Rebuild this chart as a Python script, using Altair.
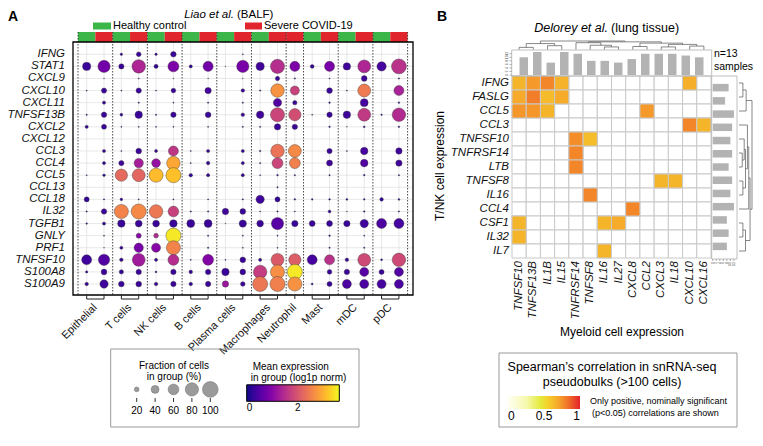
import altair as alt
import pandas as pd

FONT = "Liberation Sans"

# ================= Panel A: Liao et al. (BALF) =================
genes_a = ["IFNG", "STAT1", "CXCL9", "CXCL10", "CXCL11", "TNFSF13B", "CXCL2",
           "CXCL12", "CCL3", "CCL4", "CCL5", "CCL13", "CCL18", "IL32", "TGFB1",
           "GNLY", "PRF1", "TNFSF10", "S100A8", "S100A9"]
cell_types = ["Epithelial", "T cells", "NK cells", "B cells", "Plasma cells",
              "Macrophages", "Neutrophil", "Mast", "mDC", "pDC"]
column_cell_type = ["Epithelial", "Epithelial", "T cells", "T cells", "NK cells", "NK cells",
                    "B cells", "B cells", "Plasma cells", "Plasma cells",
                    "Macrophages", "Macrophages", "Neutrophil", "Mast", "Mast",
                    "mDC", "mDC", "pDC", "pDC"]
conditions = ["Healthy control", "Severe COVID-19"]
condition_colors = ["#3cb549", "#e1252c"]
column_condition = ["Healthy control", "Severe COVID-19"] * 6 + ["Severe COVID-19"] + \
                   ["Healthy control", "Severe COVID-19"] * 3

# columns: EpiH EpiS TH TS NKH NKS BH BS PlH PlS MacH MacS NeuS MastH MastS mDCH mDCS pDCH pDCS
fraction_pct = [
    [0, 0, 8, 20, 8, 25, 0, 0, 0, 3, 0, 0, 0, 0, 0, 0, 0, 0, 0],                   # IFNG
    [42, 72, 23, 82, 17, 62, 12, 56, 2, 72, 42, 87, 55, 15, 55, 37, 77, 50, 93],    # STAT1
    [0, 2, 0, 3, 0, 2, 0, 2, 0, 2, 0, 18, 4, 0, 3, 0, 26, 0, 4],                   # CXCL9
    [3, 23, 3, 24, 3, 20, 0, 30, 0, 14, 4, 82, 48, 0, 26, 3, 77, 0, 55],           # CXCL10
    [0, 12, 0, 4, 0, 3, 0, 4, 0, 4, 0, 43, 18, 0, 5, 0, 40, 0, 5],                 # CXCL11
    [4, 24, 10, 37, 4, 24, 0, 26, 0, 14, 37, 87, 72, 3, 24, 37, 77, 5, 82],        # TNFSF13B
    [12, 22, 3, 3, 3, 3, 0, 3, 0, 4, 4, 30, 24, 0, 5, 2, 6, 0, 5],                 # CXCL2
    [0, 0, 0, 0, 0, 0, 0, 0, 0, 0, 0, 0, 0, 0, 0, 0, 0, 0, 0],                     # CXCL12
    [0, 12, 3, 26, 11, 55, 3, 12, 0, 12, 5, 82, 77, 0, 23, 3, 37, 0, 30],          # CCL3
    [0, 12, 23, 50, 46, 82, 3, 14, 0, 12, 4, 62, 62, 0, 28, 0, 38, 0, 30],         # CCL4
    [3, 9, 72, 77, 87, 95, 14, 12, 0, 12, 3, 5, 4, 0, 4, 0, 5, 0, 4],              # CCL5
    [0, 0, 0, 0, 0, 0, 0, 0, 0, 0, 0, 4, 0, 0, 0, 0, 0, 0, 0],                     # CCL13
    [22, 4, 9, 3, 0, 3, 0, 3, 0, 4, 43, 22, 5, 5, 5, 6, 5, 14, 6],                 # CCL18
    [4, 24, 87, 95, 82, 60, 4, 4, 30, 26, 3, 4, 3, 0, 11, 2, 5, 0, 4],             # IL32
    [5, 12, 37, 33, 33, 38, 40, 40, 2, 36, 32, 72, 30, 27, 27, 30, 43, 55, 55],    # TGFB1
    [0, 3, 0, 22, 20, 95, 0, 4, 0, 3, 0, 3, 0, 0, 5, 0, 3, 0, 0],                  # GNLY
    [0, 2, 12, 50, 48, 87, 0, 4, 0, 3, 0, 3, 0, 0, 4, 0, 4, 0, 0],                 # PRF1
    [55, 65, 14, 77, 12, 62, 3, 62, 3, 26, 12, 77, 72, 55, 55, 14, 77, 6, 82],     # TNFSF10
    [8, 26, 18, 24, 6, 24, 14, 24, 37, 26, 82, 87, 95, 0, 20, 24, 48, 22, 48],     # S100A8
    [14, 43, 26, 26, 14, 24, 14, 24, 30, 20, 95, 95, 87, 6, 22, 48, 48, 48, 48],   # S100A9
]
mean_expr = [
    [0.15, 0.15, 0.22, 0.3, 0.22, 0.3, 0.15, 0.15, 0.15, 0.22, 0.15, 0.15, 0.15, 0.15, 0.15, 0.15, 0.15, 0.15, 0.15],
    [0.3, 0.8, 0.3, 1.4, 0.25, 0.9, 0.25, 0.8, 0.15, 0.85, 0.35, 1.5, 0.9, 0.25, 0.85, 0.35, 1.4, 0.4, 1.55],
    [0.15, 0.2, 0.15, 0.2, 0.15, 0.2, 0.15, 0.2, 0.15, 0.2, 0.15, 0.3, 0.22, 0.15, 0.2, 0.15, 0.35, 0.15, 0.22],
    [0.15, 0.3, 0.15, 0.3, 0.15, 0.3, 0.15, 0.4, 0.15, 0.3, 0.15, 2.7, 1.75, 0.15, 0.3, 0.15, 2.45, 0.15, 1.35],
    [0.15, 0.25, 0.15, 0.22, 0.15, 0.22, 0.15, 0.22, 0.15, 0.22, 0.15, 0.5, 0.3, 0.15, 0.22, 0.15, 0.4, 0.15, 0.22],
    [0.2, 0.3, 0.25, 0.3, 0.2, 0.3, 0.15, 0.3, 0.15, 0.3, 0.35, 1.8, 1.9, 0.15, 0.3, 0.35, 1.65, 0.2, 1.45],
    [0.25, 0.3, 0.2, 0.2, 0.2, 0.2, 0.15, 0.2, 0.15, 0.22, 0.22, 0.3, 0.3, 0.15, 0.22, 0.2, 0.22, 0.15, 0.22],
    [0.15, 0.15, 0.15, 0.15, 0.15, 0.15, 0.15, 0.15, 0.15, 0.15, 0.15, 0.15, 0.15, 0.15, 0.15, 0.15, 0.15, 0.15, 0.15],
    [0.15, 0.25, 0.15, 0.3, 0.25, 1.6, 0.15, 0.25, 0.15, 0.25, 0.15, 2.35, 2.6, 0.15, 0.3, 0.15, 0.4, 0.15, 0.35],
    [0.15, 0.25, 0.35, 1.3, 1.15, 2.9, 0.15, 0.25, 0.15, 0.25, 0.15, 1.8, 2.5, 0.15, 0.35, 0.15, 0.5, 0.15, 0.35],
    [0.15, 0.22, 2.25, 2.2, 3.1, 3.15, 0.25, 0.25, 0.15, 0.25, 0.15, 0.2, 0.2, 0.15, 0.2, 0.15, 0.2, 0.15, 0.2],
    [0.15, 0.15, 0.15, 0.15, 0.15, 0.15, 0.15, 0.15, 0.15, 0.15, 0.15, 0.2, 0.15, 0.15, 0.15, 0.15, 0.15, 0.15, 0.15],
    [0.25, 0.2, 0.22, 0.2, 0.15, 0.2, 0.15, 0.2, 0.15, 0.2, 0.35, 0.25, 0.2, 0.2, 0.2, 0.2, 0.2, 0.25, 0.2],
    [0.15, 0.3, 2.55, 2.6, 2.4, 1.75, 0.15, 0.15, 0.35, 0.3, 0.15, 0.15, 0.15, 0.15, 0.25, 0.15, 0.2, 0.15, 0.2],
    [0.22, 0.25, 0.3, 0.3, 0.3, 0.3, 0.3, 0.3, 0.15, 0.3, 0.3, 0.55, 0.3, 0.3, 0.3, 0.3, 0.35, 0.45, 0.4],
    [0.15, 0.15, 0.15, 1.0, 1.45, 3.5, 0.15, 0.22, 0.15, 0.15, 0.15, 0.15, 0.15, 0.15, 0.22, 0.15, 0.15, 0.15, 0.15],
    [0.15, 0.15, 0.25, 0.85, 1.0, 2.55, 0.15, 0.22, 0.15, 0.15, 0.15, 0.15, 0.15, 0.15, 0.22, 0.15, 0.22, 0.15, 0.15],
    [0.35, 0.5, 0.25, 1.25, 0.25, 1.5, 0.15, 0.95, 0.15, 0.3, 0.25, 2.05, 2.1, 0.4, 1.55, 0.25, 1.85, 0.2, 1.85],
    [0.22, 0.3, 0.25, 0.3, 0.22, 0.3, 0.25, 0.3, 0.3, 0.3, 1.7, 2.65, 3.5, 0.15, 0.3, 0.3, 0.55, 0.3, 0.5],
    [0.25, 0.35, 0.3, 0.3, 0.25, 0.3, 0.25, 0.3, 1.2, 0.3, 2.4, 2.5, 2.7, 0.22, 0.3, 0.45, 0.45, 0.4, 0.45],
]
size_legend_values = [20, 40, 60, 80, 100]
expr_legend_values = [0, 2]
expr_max = 3.63

# ================= Panel B: Delorey et al. (lung tissue) =================
rows_b = ["IFNG", "FASLG", "CCL5", "CCL3", "TNFSF10", "TNFRSF14", "LTB", "TNFSF8",
          "IL16", "CCL4", "CSF1", "IL32", "IL7"]
cols_b = ["TNFSF10", "TNFSF13B", "IL1B", "IL15", "TNFRSF14", "TNFSF8", "IL16", "IL27",
          "CXCL8", "CCL2", "CXCL3", "IL18", "CXCL10", "CXCL16"]
sig_row = ["IFNG", "IFNG", "IFNG", "IFNG", "IFNG", "FASLG", "FASLG", "FASLG", "FASLG",
           "CCL5", "CCL5", "CCL5", "CCL5", "CCL3", "CCL3", "TNFSF10", "TNFSF10",
           "TNFRSF14", "LTB", "TNFSF8", "TNFSF8", "IL16", "CCL4", "CSF1", "CSF1", "CSF1",
           "IL32", "IL7"]
sig_col = ["TNFSF10", "TNFSF13B", "IL1B", "IL15", "CXCL10", "TNFSF10", "TNFSF13B", "IL1B", "IL15",
           "TNFSF10", "TNFSF13B", "IL1B", "CCL2", "CXCL10", "CXCL16", "TNFRSF14", "TNFSF8",
           "TNFRSF14", "TNFRSF14", "CXCL3", "IL18", "TNFSF8", "CXCL8", "TNFSF10", "IL16", "IL27",
           "TNFSF10", "IL16"]
sig_rho = [0.65, 0.73, 0.78, 0.66, 0.67, 0.69, 0.8, 0.63, 0.68,
           0.74, 0.74, 0.65, 0.73, 0.78, 0.65, 0.76, 0.62,
           0.78, 0.78, 0.65, 0.65, 0.78, 0.78, 0.65, 0.65, 0.68,
           0.65, 0.65]
samples_per_col = [10, 13, 7, 13, 12, 8, 8, 7, 9, 12, 12, 12, 11, 10]
samples_per_row = [9, 7, 12, 11, 10, 11, 9, 11, 10, 12, 8, 9, 8]
sample_ticks = [0, 2, 4, 6, 8, 10, 12]
col_dendro_merges = [(0, 1, 0.25), (2, 3, 0.45), ("m0", "m1", 0.7), (6, 7, 0.3), (5, "m3", 0.5),
                     (4, "m4", 0.8), (8, 9, 0.35), (10, 11, 0.3), (12, 13, 0.4), ("m7", "m8", 0.6),
                     ("m6", "m9", 0.75), ("m5", "m10", 0.9), ("m2", "m11", 1.0)]
row_dendro_merges = [(0, 1, 0.3), ("m0", 2, 0.55), (5, 6, 0.25), (4, "m2", 0.4), (7, 8, 0.3),
                     ("m3", "m4", 0.5), (3, "m5", 0.65), ("m6", 9, 0.75), (10, 11, 0.3),
                     ("m8", 12, 0.5), ("m7", "m9", 0.85), ("m1", "m10", 1.0)]
corr_legend_values = [0, 0.5, 1]
corr_stops = [0, 0.25, 0.45, 0.55, 0.7, 0.85, 1]
corr_colors = ["#fffff2", "#f6f8b0", "#e4ea3c", "#f4d22a", "#f6a62a", "#f06a28", "#e2232c"]


# ---------------- helpers ----------------
def sc(lo, hi, r0, r1):
    return alt.Scale(domain=[lo, hi], range=[r0, r1], nice=False, zero=False)


def XA():
    return sc(-0.5, 18.5, 70, 399.6)


def YA():
    return sc(-0.5, 19.5, 40.25, 282.05)


def XB():
    return sc(-0.5, 13.5, 504, 703)


def YB():
    return sc(-0.5, 12.5, 68, 250)


def YTOP():
    return sc(0, 13, 67, 44)


def XRIGHT():
    return sc(0, 13, 704.7, 727.7)


ONE = pd.DataFrame({"k": [0]})


def txt(text, x, y, size=11, **kw):
    return alt.Chart(pd.DataFrame({"t": [text]})).mark_text(font=FONT, fontSize=size, **kw).encode(
        text="t:N", x=alt.value(x), y=alt.value(y))


def box(x0, x1, y0, y1, stroke="#999999", width=1.0):
    return alt.Chart(ONE).mark_rect(fillOpacity=0, stroke=stroke, strokeWidth=width).encode(
        x=alt.value(x0), x2=alt.value(x1), y=alt.value(y0), y2=alt.value(y1))


def dendro(merges):
    pos, hgt, segs = {}, {}, []

    def get(n):
        if isinstance(n, int):
            return float(n), 0.0
        return pos[n], hgt[n]

    for k, (a, b, h) in enumerate(merges):
        pa, ha = get(a)
        pb, hb = get(b)
        segs += [dict(p0=pa, p1=pa, h0=ha, h1=h), dict(p0=pb, p1=pb, h0=hb, h1=h),
                 dict(p0=pa, p1=pb, h0=h, h1=h)]
        pos[f"m{k}"] = (pa + pb) / 2
        hgt[f"m{k}"] = h
    return pd.DataFrame(segs)


layers = []

# ---------------- Panel A layers ----------------
n_cols = len(column_cell_type)
cols_df = pd.DataFrame({"ci": range(n_cols), "cond": column_condition})
cols_df["x0"] = cols_df["ci"] - 0.5
cols_df["x1"] = cols_df["ci"] + 0.5
genes_df = pd.DataFrame({"gi": range(len(genes_a)), "gene": genes_a})

dots = pd.DataFrame([
    {"gi": g, "ci": c, "gene": genes_a[g], "cell": column_cell_type[c],
     "cond": column_condition[c], "frac": fraction_pct[g][c], "expr": mean_expr[g][c]}
    for g in range(len(genes_a)) for c in range(n_cols) if fraction_pct[g][c] > 0])

bounds = [-0.5] + [i + 0.5 for i in range(n_cols - 1)
                   if column_cell_type[i] != column_cell_type[i + 1]] + [n_cols - 0.5]
groups = []
for ct in cell_types:
    idx = [i for i, c in enumerate(column_cell_type) if c == ct]
    groups.append({"cell": ct, "first": min(idx), "last": max(idx), "mid": (min(idx) + max(idx)) / 2})
groups_df = pd.DataFrame(groups)

STRIP_TOP = 24
# grid
layers.append(alt.Chart(genes_df).mark_rule(color="#dedede", strokeWidth=0.7).encode(
    y=alt.Y("gi:Q", scale=YA(), axis=None), x=alt.value(65), x2=alt.value(405)))
layers.append(alt.Chart(cols_df).mark_rule(color="#dedede", strokeWidth=0.7).encode(
    x=alt.X("ci:Q", scale=XA(), axis=None), y=alt.value(34), y2=alt.value(287)))
# condition strip
layers.append(alt.Chart(cols_df).mark_rect().encode(
    x=alt.X("x0:Q", scale=XA(), axis=None), x2="x1:Q",
    y=alt.value(STRIP_TOP), y2=alt.value(34),
    color=alt.Color("cond:N", scale=alt.Scale(domain=conditions, range=condition_colors), legend=None)))
# group separators
layers.append(alt.Chart(pd.DataFrame({"b": bounds})).mark_rule(
    color="#333333", strokeWidth=0.9, strokeDash=[1.5, 1.5]).encode(
    x=alt.X("b:Q", scale=XA(), axis=None), y=alt.value(STRIP_TOP), y2=alt.value(287)))
# dots
layers.append(alt.Chart(dots).mark_circle(opacity=1, stroke="#3a3a3a", strokeWidth=0.4).encode(
    x=alt.X("ci:Q", scale=XA(), axis=None),
    y=alt.Y("gi:Q", scale=YA(), axis=None),
    size=alt.Size("frac:Q", scale=alt.Scale(type="pow", exponent=1.5, domain=[0, 100], range=[0, 246]),
                  legend=None),
    color=alt.Color("expr:Q", scale=alt.Scale(scheme="plasma", domain=[0, expr_max], zero=False),
                    legend=alt.Legend(orient="none", legendX=238.7, legendY=376.8, direction="horizontal",
                                      gradientLength=92.6, gradientThickness=16.5, title=None,
                                      values=expr_legend_values, labelFont=FONT, labelFontSize=10,
                                      labelColor="black", gradientStrokeColor="black",
                                      gradientStrokeWidth=1))))
# frame
layers.append(box(65, 405, 34, 287, stroke="black", width=1.3))
# gene labels
layers.append(alt.Chart(genes_df).mark_text(font=FONT, fontSize=11.5, fontStyle="italic", align="right",
                                           baseline="middle", color="#111").encode(
    y=alt.Y("gi:Q", scale=YA(), axis=None), x=alt.value(57), text="gene:N"))
# brackets
layers.append(alt.Chart(groups_df).mark_rule(color="#222", strokeWidth=1).encode(
    x=alt.X("first:Q", scale=XA(), axis=None), x2="last:Q", y=alt.value(291)))
layers.append(alt.Chart(cols_df).mark_rule(color="#222", strokeWidth=1).encode(
    x=alt.X("ci:Q", scale=XA(), axis=None), y=alt.value(287), y2=alt.value(291)))
# group labels
layers.append(alt.Chart(groups_df).mark_text(font=FONT, fontSize=11, angle=315, align="right",
                                            baseline="middle", color="#111").encode(
    x=alt.X("mid:Q", scale=XA(), axis=None), y=alt.value(298), text="cell:N"))
# header
layers.append(txt("A", 0, 2, size=14, fontWeight="bold", align="left", baseline="top"))
layers.append(txt("Liao et al.", 226, 7, size=11.5, fontStyle="italic", align="right", baseline="middle"))
layers.append(txt("(BALF)", 229, 7, size=11.5, align="left", baseline="middle"))
layers.append(alt.Chart(ONE).mark_rect(color=condition_colors[0]).encode(
    x=alt.value(85), x2=alt.value(103), y=alt.value(14.5), y2=alt.value(21.5)))
layers.append(txt(conditions[0], 105, 18, size=11, align="left", baseline="middle"))
layers.append(alt.Chart(ONE).mark_rect(color=condition_colors[1]).encode(
    x=alt.value(237), x2=alt.value(254), y=alt.value(14.5), y2=alt.value(21.5)))
layers.append(txt(conditions[1], 256, 18, size=11, align="left", baseline="middle"))
# legend A
layers.append(box(102.7, 351, 341, 419))
layers.append(txt("Fraction of cells", 166, 357.5, size=10, align="center", baseline="middle"))
layers.append(txt("in group (%)", 166, 368.5, size=10, align="center", baseline="middle"))
leg_sizes = pd.DataFrame({"v": size_legend_values})
layers.append(alt.Chart(leg_sizes).mark_circle(opacity=1, color="#9a9a9a", stroke="#7a7a7a",
                                              strokeWidth=0.6).encode(
    x=alt.X("v:Q", scale=sc(20, 100, 128.7, 202.3), axis=None), y=alt.value(381.4),
    size=alt.Size("v:Q", scale=alt.Scale(type="pow", exponent=1.5, domain=[0, 100], range=[0, 246]),
                  legend=None)))
layers.append(alt.Chart(leg_sizes).mark_rule(color="#333", strokeWidth=1).encode(
    x=alt.X("v:Q", scale=sc(20, 100, 128.7, 202.3), axis=None), y=alt.value(390), y2=alt.value(394)))
layers.append(alt.Chart(leg_sizes).mark_text(font=FONT, fontSize=10, baseline="middle").encode(
    x=alt.X("v:Q", scale=sc(20, 100, 128.7, 202.3), axis=None), y=alt.value(403.4), text="v:Q"))
layers.append(txt("Mean expression", 244.7, 359.4, size=10, align="left", baseline="middle"))
layers.append(txt("in group (log1p norm)", 242.7, 370.4, size=10, align="left", baseline="middle"))

# ---------------- Panel B layers ----------------
cells = pd.DataFrame([{"ri": r, "ci": c} for r in range(len(rows_b)) for c in range(len(cols_b))])
cells["x0"] = cells["ci"] - 0.5
cells["x1"] = cells["ci"] + 0.5
cells["y0"] = cells["ri"] - 0.5
cells["y1"] = cells["ri"] + 0.5
sig = pd.DataFrame({"row": sig_row, "col": sig_col, "rho": sig_rho})
sig["ri"] = sig["row"].map({g: i for i, g in enumerate(rows_b)})
sig["ci"] = sig["col"].map({g: i for i, g in enumerate(cols_b)})
sig["x0"] = sig["ci"] - 0.5
sig["x1"] = sig["ci"] + 0.5
sig["y0"] = sig["ri"] - 0.5
sig["y1"] = sig["ri"] + 0.5

layers.append(alt.Chart(cells).mark_rect(fill="white", stroke="#c9c9c9", strokeWidth=1).encode(
    x=alt.X("x0:Q", scale=XB(), axis=None), x2="x1:Q",
    y=alt.Y("y0:Q", scale=YB(), axis=None), y2="y1:Q"))
layers.append(alt.Chart(sig).mark_rect(stroke="#c9c9c9", strokeWidth=1).encode(
    x=alt.X("x0:Q", scale=XB(), axis=None), x2="x1:Q",
    y=alt.Y("y0:Q", scale=YB(), axis=None), y2="y1:Q",
    color=alt.Color("rho:Q", scale=alt.Scale(domain=corr_stops, range=corr_colors, interpolate="rgb",
                                             zero=False),
                    legend=alt.Legend(orient="none", legendX=500, legendY=388, direction="horizontal",
                                      gradientLength=72, gradientThickness=13, title=None,
                                      values=corr_legend_values, format=".1~f", labelFont=FONT,
                                      labelFontSize=12, labelColor="black", gradientStrokeWidth=0))))
# row / column labels
rows_df = pd.DataFrame({"ri": range(len(rows_b)), "g": rows_b, "n": samples_per_row})
colsb_df = pd.DataFrame({"ci": range(len(cols_b)), "g": cols_b, "n": samples_per_col})
layers.append(alt.Chart(rows_df).mark_text(font=FONT, fontSize=11.5, fontStyle="italic", align="right",
                                          baseline="middle", color="#111").encode(
    y=alt.Y("ri:Q", scale=YB(), axis=None), x=alt.value(501), text="g:N"))
layers.append(alt.Chart(colsb_df).mark_text(font=FONT, fontSize=11.5, fontStyle="italic", align="right",
                                           baseline="middle", angle=270, color="#111").encode(
    x=alt.X("ci:Q", scale=XB(), axis=None), y=alt.value(253), text="g:N"))
# marginal bars
ticks_df = pd.DataFrame({"v": sample_ticks})
layers.append(box(503.7, 703.7, 42, 68, stroke="#b0b0b0", width=0.8))
layers.append(alt.Chart(colsb_df).mark_bar(orient="vertical", width=8.5, color="#b3b3b3").encode(
    x=alt.X("ci:Q", scale=XB(), axis=None), y=alt.Y("n:Q", scale=YTOP(), axis=None)))
layers.append(alt.Chart(ticks_df).mark_rule(color="#666", strokeWidth=0.5).encode(
    y=alt.Y("v:Q", scale=YTOP(), axis=None), x=alt.value(501.5), x2=alt.value(503.7)))
layers.append(alt.Chart(ticks_df).mark_text(font=FONT, fontSize=3.5, angle=270, baseline="middle",
                                           color="#444").encode(
    y=alt.Y("v:Q", scale=YTOP(), axis=None), x=alt.value(499), text="v:Q"))
layers.append(box(703.7, 729, 68, 251, stroke="#b0b0b0", width=0.8))
layers.append(alt.Chart(rows_df).mark_bar(orient="horizontal", height=7.5, color="#b3b3b3").encode(
    y=alt.Y("ri:Q", scale=YB(), axis=None), x=alt.X("n:Q", scale=XRIGHT(), axis=None)))
layers.append(alt.Chart(ticks_df).mark_rule(color="#666", strokeWidth=0.5).encode(
    x=alt.X("v:Q", scale=XRIGHT(), axis=None), y=alt.value(251), y2=alt.value(253)))
layers.append(alt.Chart(ticks_df).mark_text(font=FONT, fontSize=3.5, angle=270, align="right",
                                           baseline="middle", color="#444").encode(
    x=alt.X("v:Q", scale=XRIGHT(), axis=None), y=alt.value(254), text="v:Q"))
# dendrograms
layers.append(alt.Chart(dendro(col_dendro_merges)).mark_rule(color="#555", strokeWidth=0.7).encode(
    x=alt.X("p0:Q", scale=XB(), axis=None), x2="p1:Q",
    y=alt.Y("h0:Q", scale=sc(0, 1, 41.5, 33), axis=None), y2="h1:Q"))
layers.append(alt.Chart(dendro(row_dendro_merges)).mark_rule(color="#555", strokeWidth=0.7).encode(
    y=alt.Y("p0:Q", scale=YB(), axis=None), y2="p1:Q",
    x=alt.X("h0:Q", scale=sc(0, 1, 731, 744), axis=None), x2="h1:Q"))
# titles
layers.append(txt("B", 429, 2, size=14, fontWeight="bold", align="left", baseline="top"))
layers.append(txt("Delorey et al.", 600, 19.5, size=12.5, fontStyle="italic", align="right",
                  baseline="middle"))
layers.append(txt("(lung tissue)", 603, 19.5, size=12.5, align="left", baseline="middle"))
layers.append(txt("n=13", 706, 46, size=10.5, align="left", baseline="middle"))
layers.append(txt("samples", 706, 59, size=10.5, align="left", baseline="middle"))
layers.append(txt("T/NK cell expression", 432, 158, size=12, angle=270, align="center", baseline="middle"))
layers.append(txt("Myeloid cell expression", 614, 324, size=12, align="center", baseline="middle"))
# legend B
layers.append(box(491, 729, 345, 419))
layers.append(txt("Spearman\u2019s correlation in snRNA-seq", 604, 359, size=12.5, align="center",
                  baseline="middle"))
layers.append(txt("pseudobulks (>100 cells)", 604, 374, size=12.5, align="center", baseline="middle"))
layers.append(txt("Only positive, nominally significant", 582, 392.8, size=9, align="left",
                  baseline="middle"))
layers.append(txt("(p<0.05) correlations are shown", 584, 404.5, size=9, align="left", baseline="middle"))

chart = alt.layer(*layers).resolve_scale(
    x="independent", y="independent", color="independent", size="independent"
).properties(
    width=747, height=420, padding=0, autosize=alt.AutoSizeParams(type="none")
).configure_view(strokeWidth=0)

chart.save("out.html", embed_options={"renderer": "svg", "actions": False})
